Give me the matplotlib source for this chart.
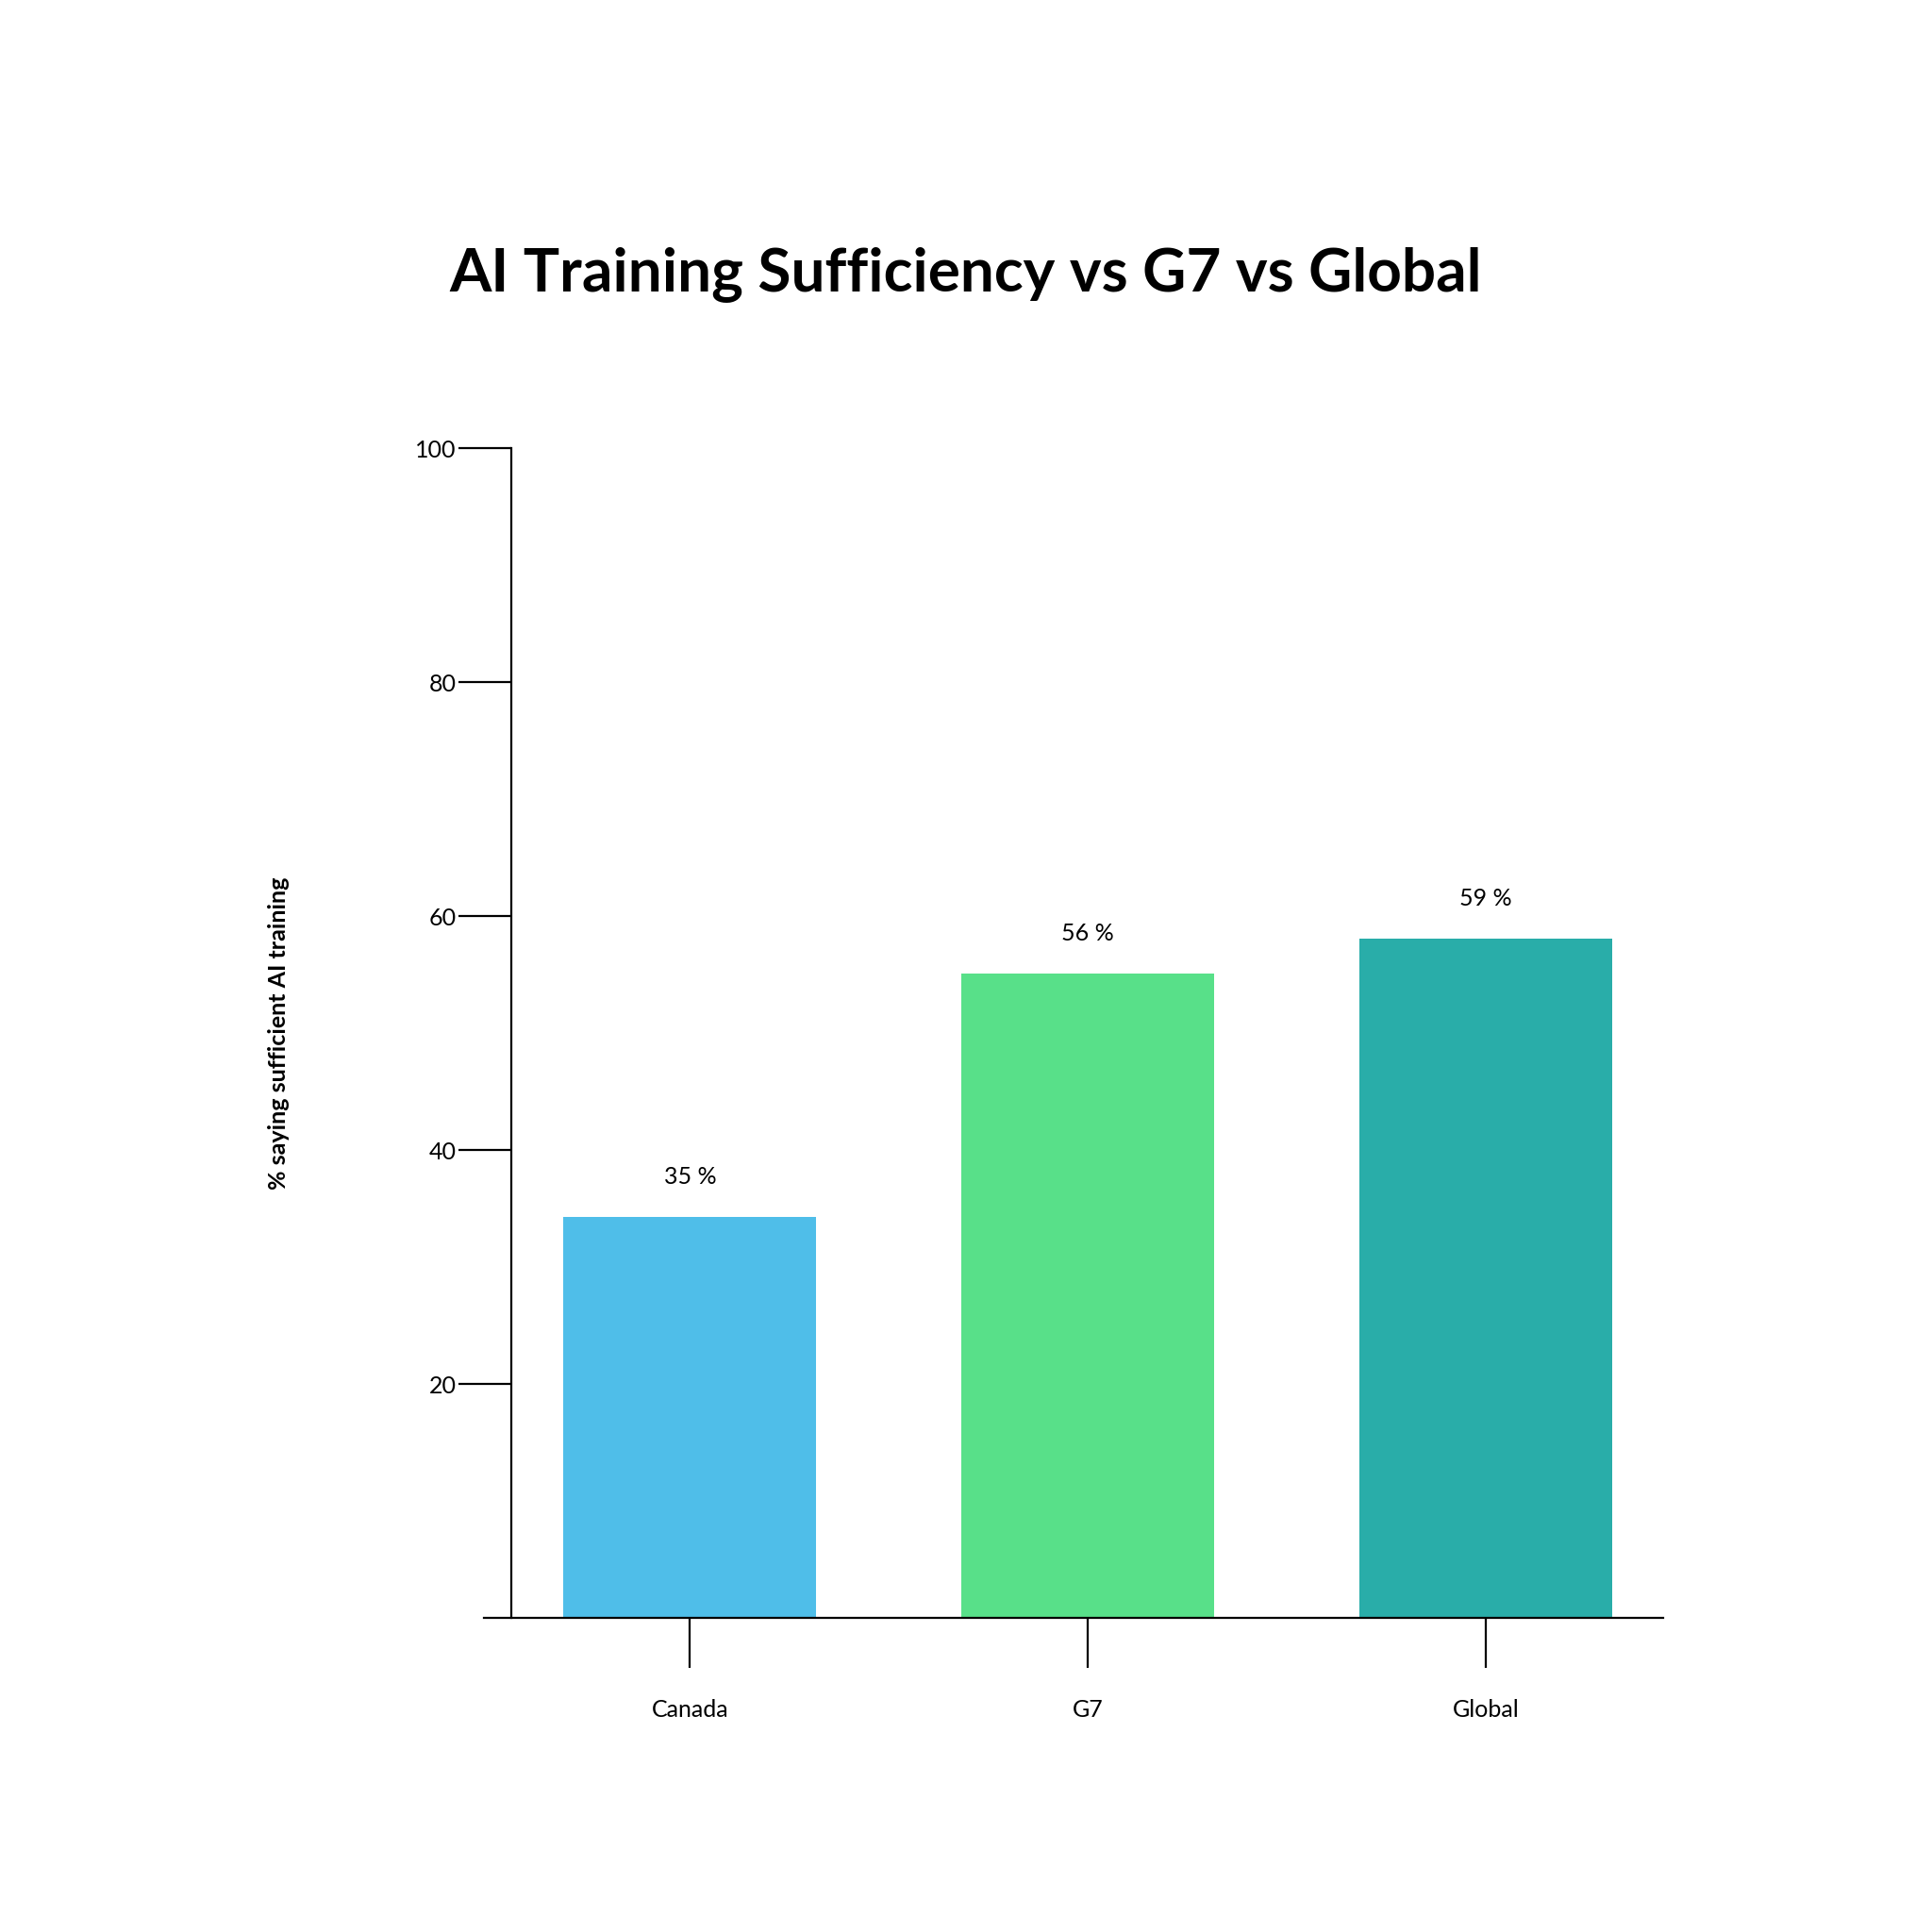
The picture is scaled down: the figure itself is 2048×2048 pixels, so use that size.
import matplotlib
matplotlib.use("Agg")
import matplotlib.pyplot as plt

categories = ["Canada", "G7", "Global"]
values = [34.3, 55.1, 58.1]
labels = ["35 %", "56 %", "59 %"]
colors = ["#4FBEE9", "#58E089", "#29ADA9"]
yticks = [20, 40, 60, 80, 100]

plt.rcParams['font.family'] = ['Lato', 'DejaVu Sans']
fig = plt.figure(figsize=(10.24, 10.24), dpi=200)
ax = fig.add_axes([0.2506, 0.1626, 0.861 - 0.2506, 0.768 - 0.1626])
x = list(range(len(categories)))
ax.bar(x, values, width=0.635, color=colors)
for xi, v, lab in zip(x, values, labels):
    ax.text(xi, v + 2.5, lab, ha='center', va='bottom', fontsize=9)
ax.set_xlim(-0.517, 2.446)
ax.set_ylim(0, 100)
ax.set_yticks(yticks)
ax.set_xticks(x)
ax.set_xticklabels(categories)
for s in ['top', 'right']:
    ax.spines[s].set_visible(False)
ax.spines['left'].set_position(('data', -0.449))
ax.spines['left'].set_bounds(0, 100)
for s in ['left', 'bottom']:
    ax.spines[s].set_linewidth(0.8)
ax.tick_params(axis='y', length=20, width=0.8, labelsize=9, pad=1)
ax.tick_params(axis='x', length=19, width=0.8, labelsize=9, pad=12)
ax.set_ylabel("% saying sufficient AI training", fontsize=9, fontweight='bold', labelpad=48)
fig.text(0.5, 0.858, "AI Training Sufficiency vs G7 vs Global", ha='center', va='center',
         fontsize=23, fontweight='bold')
fig.savefig("out.png", dpi=200, facecolor='white')
